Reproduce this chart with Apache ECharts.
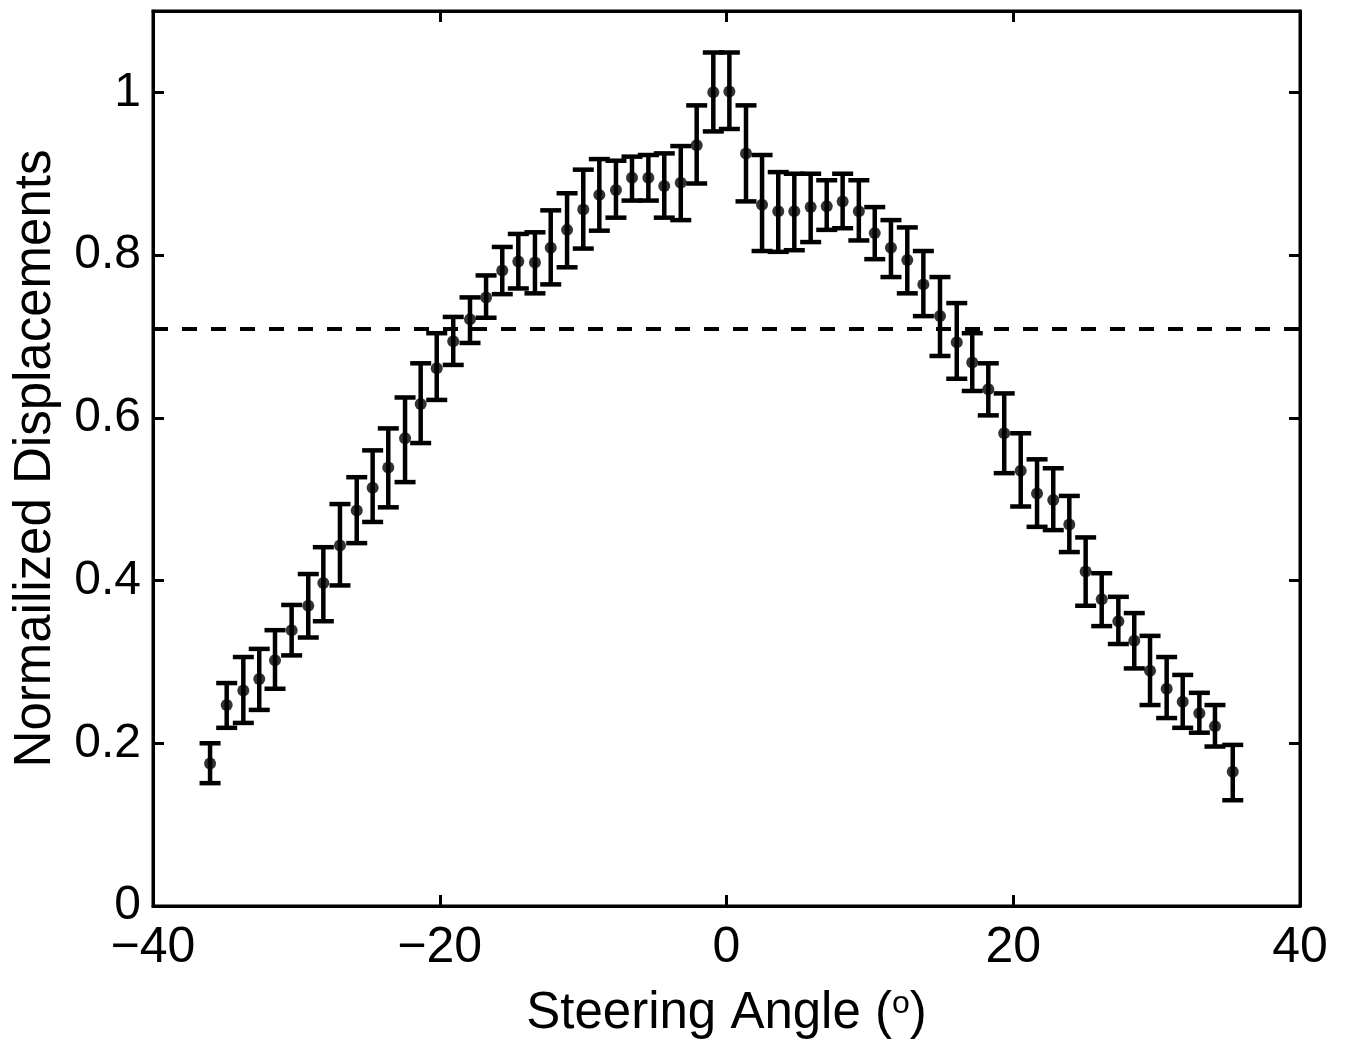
<!DOCTYPE html>
<html>
<head>
<meta charset="utf-8">
<script src="https://cdn.jsdelivr.net/npm/echarts@6/dist/echarts.min.js"></script>
<style>
html,body{margin:0;padding:0;background:#fff;}
#chart{width:1347px;height:1042px;}
</style>
</head>
<body>
<div id="chart"></div>
<script>
// Steering angle (degrees)
var angles = [-36.02,-34.86,-33.70,-32.59,-31.49,-30.33,-29.17,-28.12,-26.96,-25.79,-24.68,-23.59,-22.42,-21.33,-20.21,-19.06,-17.89,-16.77,-15.64,-14.52,-13.36,-12.26,-11.12,-9.99,-8.87,-7.71,-6.59,-5.45,-4.34,-3.19,-2.08,-0.92,0.20,1.36,2.48,3.61,4.73,5.87,6.99,8.10,9.23,10.34,11.47,12.61,13.73,14.89,16.06,17.14,18.26,19.37,20.52,21.66,22.79,23.91,25.05,26.17,27.33,28.44,29.54,30.70,31.82,32.98,34.07,35.31];
// Mean normalized displacement
var means = [0.175,0.247,0.265,0.279,0.302,0.339,0.369,0.397,0.443,0.486,0.514,0.539,0.575,0.617,0.661,0.694,0.721,0.748,0.781,0.792,0.791,0.809,0.831,0.856,0.874,0.880,0.895,0.895,0.885,0.889,0.935,1.000,1.001,0.925,0.862,0.854,0.854,0.859,0.860,0.866,0.854,0.827,0.809,0.794,0.764,0.725,0.693,0.668,0.635,0.581,0.535,0.507,0.499,0.469,0.411,0.377,0.350,0.326,0.289,0.267,0.251,0.237,0.221,0.165];
// Error bar upper ends
var upper = [0.200,0.274,0.306,0.316,0.339,0.370,0.408,0.441,0.494,0.527,0.560,0.587,0.625,0.667,0.704,0.724,0.748,0.775,0.810,0.826,0.828,0.855,0.876,0.905,0.918,0.916,0.921,0.923,0.925,0.934,0.984,1.049,1.049,0.984,0.923,0.902,0.900,0.900,0.892,0.900,0.892,0.859,0.843,0.834,0.805,0.773,0.741,0.704,0.667,0.630,0.581,0.549,0.538,0.504,0.453,0.409,0.380,0.360,0.332,0.306,0.284,0.262,0.247,0.198];
// Error bar lower ends
var lower = [0.151,0.219,0.225,0.241,0.267,0.308,0.330,0.350,0.394,0.446,0.472,0.490,0.521,0.569,0.622,0.665,0.692,0.723,0.752,0.759,0.753,0.764,0.785,0.808,0.830,0.846,0.867,0.867,0.846,0.843,0.888,0.952,0.955,0.866,0.805,0.804,0.806,0.816,0.831,0.833,0.818,0.795,0.773,0.753,0.725,0.676,0.648,0.633,0.603,0.532,0.491,0.466,0.462,0.435,0.369,0.344,0.322,0.292,0.247,0.231,0.219,0.213,0.196,0.130];
var threshold = 0.707;
var xTicks = [-40,-20,0,20,40];
var yTicks = [0,0.2,0.4,0.6,0.8,1];

var FONT = 'Liberation Sans';
var pts = angles.map(function(a,i){return [a,means[i]];});
var errs = angles.map(function(a,i){return [a,lower[i],upper[i]];});

var chart = echarts.init(document.getElementById('chart'));
function fmtX(v){ return String(v).replace('-', '\u2212'); }
chart.setOption({
  animation:false,
  backgroundColor:'#fff',
  grid:{left:153,right:47,top:11,bottom:136,outerBoundsMode:'none',containLabel:false,show:true,borderColor:'#000',borderWidth:3,backgroundColor:'#fff'},
  xAxis:[{
    type:'value',min:-40,max:40,interval:20,
    axisLine:{show:true,onZero:false,lineStyle:{color:'#000',width:3}},
    axisTick:{show:true,inside:true,length:11,lineStyle:{color:'#000',width:3}},
    axisLabel:{color:'#000',fontFamily:FONT,fontSize:50,margin:17,formatter:fmtX},
    splitLine:{show:false},
    name:'Steering Angle ({sup|o})',nameLocation:'middle',nameGap:82,
    nameTextStyle:{color:'#000',fontFamily:FONT,fontSize:51,
      rich:{sup:{fontFamily:FONT,fontSize:32,color:'#000',verticalAlign:'top',padding:[0,0,20,0]}}}
  },{
    type:'value',min:-40,max:40,interval:20,position:'top',
    axisLine:{show:true,onZero:false,lineStyle:{color:'#000',width:3}},
    axisTick:{show:true,inside:true,length:11,lineStyle:{color:'#000',width:3}},
    axisLabel:{show:false},splitLine:{show:false}
  }],
  yAxis:[{
    type:'value',min:0,max:1.1,
    axisLine:{show:true,onZero:false,lineStyle:{color:'#000',width:3}},
    axisTick:{show:true,inside:true,length:11,customValues:yTicks,lineStyle:{color:'#000',width:3}},
    axisLabel:{color:'#000',fontFamily:FONT,fontSize:48,margin:12,customValues:yTicks,
      formatter:function(v){return String(Math.round(v*10)/10);}},
    splitLine:{show:false},
    name:'Normailized Displacements',nameLocation:'middle',nameGap:92,
    nameTextStyle:{color:'#000',fontFamily:FONT,fontSize:51}
  },{
    type:'value',min:0,max:1.1,position:'right',
    axisLine:{show:true,onZero:false,lineStyle:{color:'#000',width:3}},
    axisTick:{show:true,inside:true,length:11,customValues:yTicks,lineStyle:{color:'#000',width:3}},
    axisLabel:{show:false},splitLine:{show:false}
  }],
  series:[{
    type:'custom',
    xAxisIndex:0,yAxisIndex:0,
    data:errs,
    encode:{x:0,y:[1,2]},
    renderItem:function(params,api){
      var x=api.value(0);
      var lo=api.coord([x,api.value(1)]);
      var hi=api.coord([x,api.value(2)]);
      var hw=10.5;
      var st={stroke:'#000',lineWidth:4.5,fill:null};
      return {type:'group',children:[
        {type:'line',shape:{x1:lo[0],y1:lo[1],x2:hi[0],y2:hi[1]},style:st},
        {type:'line',shape:{x1:lo[0]-hw,y1:lo[1],x2:lo[0]+hw,y2:lo[1]},style:st},
        {type:'line',shape:{x1:hi[0]-hw,y1:hi[1],x2:hi[0]+hw,y2:hi[1]},style:st}
      ]};
    },
    z:2
  },{
    type:'scatter',
    data:pts,
    symbol:'circle',symbolSize:12,
    itemStyle:{color:'#000'},
    z:3,
    markLine:{
      silent:true,symbol:['none','none'],
      label:{show:false},
      lineStyle:{color:'#000',width:4,type:[15,14]},
      data:[{yAxis:threshold}]
    }
  }]
});
</script>
</body>
</html>
